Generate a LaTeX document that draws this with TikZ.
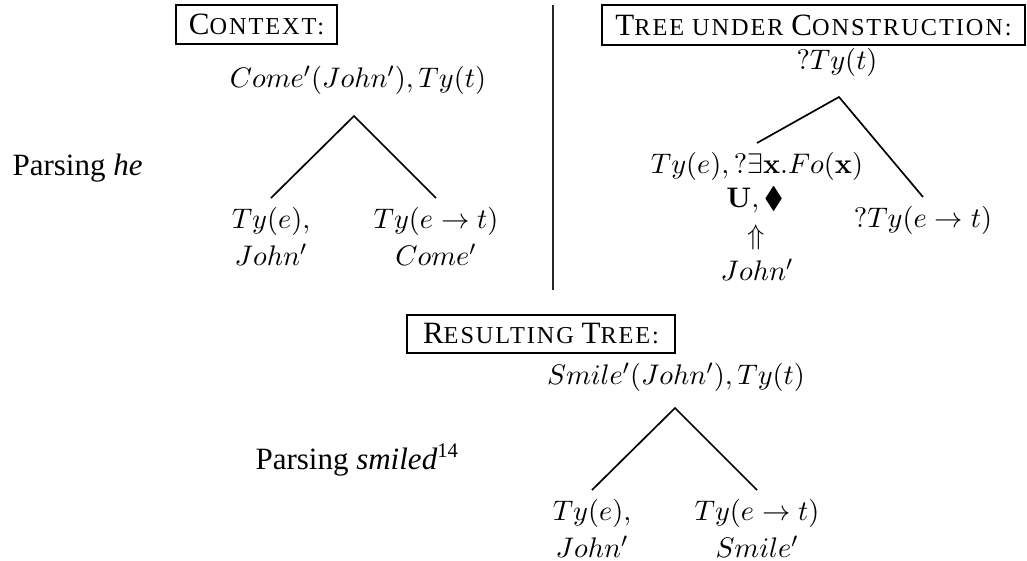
\documentclass[tikz,border=0pt]{standalone}
\usepackage{amssymb}
\usepackage[no-math]{fontspec}
\setmainfont{Liberation Serif}
\newcommand\smc[1]{{\fontsize{9.4}{11}\selectfont\addfontfeatures{LetterSpace=8}#1}}
\begin{document}
\begin{tikzpicture}[x=0.387pt,y=-0.387pt,
  every node/.style={inner sep=0pt},
  hdr/.style={draw,line width=0.45pt,inner sep=0pt,font=\fontsize{12}{14}\selectfont},
  mth/.style={font=\fontsize{11.4}{14.5}\selectfont},
  leaf/.style={mth,anchor=north,align=center,inner xsep=0pt,inner ysep=3.3pt},
  edge/.style={line width=0.65pt},
  lbl/.style={anchor=base west,font=\fontsize{12}{14}\selectfont}]
\useasboundingbox (0,0) rectangle (1027,560);

% left labels
\node[lbl] (p1) at (12,175) {Parsing \textit{he}};
\node[lbl] (p2) at (255,469) {Parsing \textit{smiled}\textsuperscript{14}};

% divider
\coordinate (dtop) at (553,5);
\coordinate (dbot) at (553,290);
\draw[line width=0.55pt,black!85] (dtop) -- (dbot);

% context
\node[hdr,minimum width=62.3pt,minimum height=15.1pt] (ctxh) at (256.5,24.5) {C\smc{ONTEXT:}};
\node[mth] (ctxr) at (358,80) {$Come'(John'), Ty(t)$};
\coordinate (ctxa) at (354,116);
\node[leaf] (ctxl) at (271,198) {$Ty(e),$\\$John'$};
\node[leaf] (ctxrr) at (436,198) {$Ty(e\rightarrow t)$\\$Come'$};
\draw[edge] (ctxl.north) -- (ctxa) -- (ctxrr.north);

% tree under construction
\node[hdr,minimum width=163.7pt,minimum height=15.5pt] (tuch) at (813.5,25) {T\smc{REE UNDER} C\smc{ONSTRUCTION:}};
\node[mth] (tucr) at (837,62) {$?Ty(t)$};
\coordinate (tuca) at (839,97);
\node[mth,anchor=north,inner ysep=3.5pt] (tucl) at (757,143) {$Ty(e), ?\exists\mathbf{x}.Fo(\mathbf{x})$};
\node[mth] (tucu) at (755,200) {$\mathbf{U}, \blacklozenge$};
\node[mth] (tucup) at (756,237) {$\Uparrow$};
\node[mth] (tucj) at (757,270) {$John'$};
\node[mth,anchor=north,inner ysep=3.5pt] (tucrr) at (923,197) {$?Ty(e\rightarrow t)$};
\draw[edge] (tucl.north) -- (tuca) -- (tucrr.north);

% resulting tree
\node[hdr,minimum width=103.7pt,minimum height=14.7pt] (resh) at (541,334) {R\smc{ESULTING} T\smc{REE:}};
\node[mth] (resr) at (676,377) {$Smile'(John'), Ty(t)$};
\coordinate (resa) at (675,408);
\node[leaf] (resl) at (592,490) {$Ty(e),$\\$John'$};
\node[leaf] (resrr) at (757,490) {$Ty(e\rightarrow t)$\\$Smile'$};
\draw[edge] (resl.north) -- (resa) -- (resrr.north);
\end{tikzpicture}
\end{document}
